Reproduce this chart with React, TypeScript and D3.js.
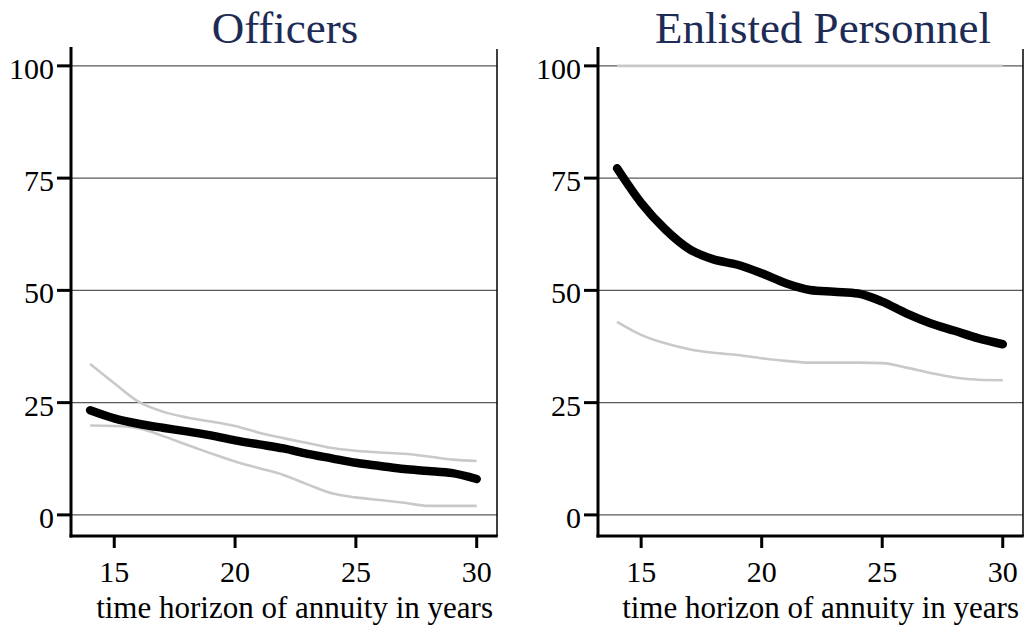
import * as d3 from "d3";

const years = [14, 15, 16, 17, 18, 19, 20, 21, 22, 23, 24, 25, 26, 27, 28, 29, 30];
const xTicks = [15, 20, 25, 30];
const yTicks = [0, 25, 50, 75, 100];

// Officers
const officerEst = [23.3, 21.5, 20.3, 19.4, 18.6, 17.7, 16.6, 15.7, 14.8, 13.6, 12.6, 11.6, 10.9, 10.2, 9.8, 9.3, 8.0];
const officerHi = [33.6, 29.3, 25.2, 23.0, 21.7, 20.8, 19.8, 18.3, 17.1, 16.0, 14.9, 14.3, 13.9, 13.6, 13.0, 12.3, 12.0];
const officerLo = [19.9, 19.8, 19.3, 17.6, 15.6, 13.7, 11.9, 10.4, 8.9, 6.8, 4.8, 3.9, 3.3, 2.7, 2.0, 2.0, 2.0];

// Enlisted personnel
const enlistedEst = [77.2, 69.5, 63.6, 59.2, 56.9, 55.7, 53.8, 51.6, 50.1, 49.7, 49.3, 47.5, 44.9, 42.7, 41.0, 39.3, 38.0];
const enlistedHi = [100, 100, 100, 100, 100, 100, 100, 100, 100, 100, 100, 100, 100, 100, 100, 100, 100];
const enlistedLo = [43.0, 40.1, 38.2, 36.9, 36.1, 35.6, 34.9, 34.3, 33.9, 33.9, 33.9, 33.8, 32.8, 31.6, 30.6, 30.1, 30.0];

const FONT = "'Liberation Serif', 'Times New Roman', serif";
const NAVY = "#1d2b55";
const GRAY = "#c9c9c9";

type PanelProps = {
  title: string;
  titleX: number;
  left: number;
  right: number;
  est: number[];
  hi: number[];
  lo: number[];
};

function Panel({ title, titleX, left, right, est, hi, lo }: PanelProps) {
  const top = 47;
  const bottom = 536;
  const x = d3.scaleLinear().domain([13.21, 30.84]).range([left, right]);
  const y = d3.scaleLinear().domain([-4.7, 104.2]).range([bottom, top]);
  const line = d3
    .line<number>()
    .x((_, i) => x(years[i]))
    .y(d => y(d))
    .curve(d3.curveMonotoneX);

  return (
    <g>
      <text x={titleX} y={43} textAnchor="middle" fontFamily={FONT} fontSize={45} fill={NAVY}>
        {title}
      </text>

      {/* grid */}
      {yTicks.map(t => (
        <line key={t} x1={left} x2={right} y1={y(t)} y2={y(t)} stroke="#5a5a5a" strokeWidth={1.2} />
      ))}

      {/* bounds */}
      <path d={line(hi) ?? ""} fill="none" stroke={GRAY} strokeWidth={2.6} />
      <path d={line(lo) ?? ""} fill="none" stroke={GRAY} strokeWidth={2.6} />
      {/* estimate */}
      <path d={line(est) ?? ""} fill="none" stroke="#000" strokeWidth={8.5} strokeLinecap="round" strokeLinejoin="round" />

      {/* frame */}
      <line x1={right} x2={right} y1={49} y2={bottom} stroke="#000" strokeWidth={1.5} />
      <line x1={left} x2={left} y1={top} y2={bottom + 1.5} stroke="#000" strokeWidth={3} />
      <line x1={left - 1.5} x2={right + 0.75} y1={bottom} y2={bottom} stroke="#000" strokeWidth={3} />

      {/* y ticks */}
      {yTicks.map(t => (
        <g key={t}>
          <line x1={left - 14} x2={left} y1={y(t)} y2={y(t)} stroke="#000" strokeWidth={3} />
          <text x={left - 17} y={y(t) + 13} textAnchor="end" fontFamily={FONT} fontSize={30} fill="#000">
            {t}
          </text>
        </g>
      ))}

      {/* x ticks */}
      {xTicks.map(t => (
        <g key={t}>
          <line x1={x(t)} x2={x(t)} y1={bottom} y2={bottom + 12} stroke="#000" strokeWidth={3} />
          <text x={x(t)} y={582} textAnchor="middle" fontFamily={FONT} fontSize={30} fill="#000">
            {t}
          </text>
        </g>
      ))}

      <text x={right - 4} y={618} textAnchor="end" fontFamily={FONT} fontSize={31} fill="#000">
        time horizon of annuity in years
      </text>
    </g>
  );
}

export default function App() {
  return (
    <svg
      width={1027}
      height={626}
      viewBox="0 0 1027 626"
      style={{ position: "absolute", left: 0, top: 0, background: "#fff" }}
    >
      <rect width={1027} height={626} fill="#fff" />
      <Panel title="Officers" titleX={285} left={71} right={497} est={officerEst} hi={officerHi} lo={officerLo} />
      <Panel
        title="Enlisted Personnel"
        titleX={823}
        left={598}
        right={1023}
        est={enlistedEst}
        hi={enlistedHi}
        lo={enlistedLo}
      />
    </svg>
  );
}
